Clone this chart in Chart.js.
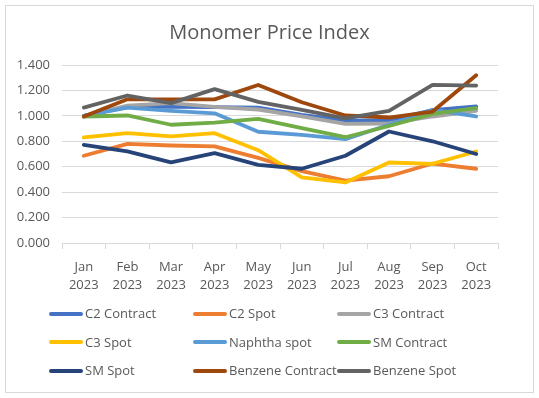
<!DOCTYPE html>
<html>
<head>
<meta charset="utf-8">
<script src="https://cdn.jsdelivr.net/npm/chart.js@4.4.1/dist/chart.umd.min.js"></script>
<style>
  html, body { margin: 0; padding: 0; background: #fff; }
  #wrap { position: relative; width: 539px; height: 398px; font-family: "Open Sans", sans-serif; }
  #frame { position: absolute; left: 5px; top: 5px; width: 527px; height: 386px; border: 1px solid #D9D9D9; }
  #title { position: absolute; left: 0; width: 539px; top: 18px; text-align: center; font-size: 20px; color: #595959; }
  #legend { position: absolute; left: 49px; top: 300px; width: 440px; }
  .item { position: absolute; height: 26px; line-height: 26px; font-size: 13px; color: #595959; white-space: nowrap; }
  .item span { display: inline-block; width: 34px; height: 4px; border-radius: 2px; vertical-align: middle; margin-right: 2px; position: relative; top: -1px; }
</style>
</head>
<body>
<div id="wrap">
  <div id="frame"></div>
  <canvas id="c" width="539" height="398" style="position:absolute;left:0;top:0"></canvas>
  <div id="title">Monomer Price Index</div>
  <div id="legend"></div>
</div>
<script>
const months = [['Jan', '2023'], ['Feb', '2023'], ['Mar', '2023'], ['Apr', '2023'], ['May', '2023'],
    ['Jun', '2023'], ['Jul', '2023'], ['Aug', '2023'], ['Sep', '2023'], ['Oct', '2023']]

const c2Contract = [1.000, 1.070, 1.070, 1.068, 1.064, 1.008, 0.965, 0.965, 1.045, 1.075]
const c2Spot = [0.686, 0.780, 0.767, 0.760, 0.670, 0.565, 0.490, 0.525, 0.625, 0.584]
const c3Contract = [1.000, 1.080, 1.100, 1.070, 1.050, 0.995, 0.937, 0.940, 0.995, 1.040]
const c3Spot = [0.830, 0.864, 0.838, 0.864, 0.730, 0.516, 0.476, 0.633, 0.623, 0.720]
const naphthaSpot = [1.000, 1.065, 1.040, 1.020, 0.875, 0.850, 0.817, 0.930, 1.047, 0.995]
const smContract = [0.995, 1.003, 0.930, 0.947, 0.976, 0.903, 0.832, 0.920, 1.016, 1.060]
const smSpot = [0.772, 0.720, 0.634, 0.707, 0.615, 0.584, 0.686, 0.877, 0.800, 0.700]
const benzeneContract = [0.995, 1.130, 1.130, 1.130, 1.243, 1.107, 1.003, 0.987, 1.034, 1.320]
const benzeneSpot = [1.065, 1.160, 1.100, 1.210, 1.110, 1.047, 0.980, 1.040, 1.243, 1.238]

const yTicks = [0, 0.2, 0.4, 0.6, 0.8, 1.0, 1.2, 1.4]

const series = [
    { label: 'C2 Contract', data: c2Contract, color: '#4472C4' },
    { label: 'C2 Spot', data: c2Spot, color: '#ED7D31' },
    { label: 'C3 Contract', data: c3Contract, color: '#A5A5A5' },
    { label: 'C3 Spot', data: c3Spot, color: '#FFC000' },
    { label: 'Naphtha spot', data: naphthaSpot, color: '#5B9BD5' },
    { label: 'SM Contract', data: smContract, color: '#70AD47' },
    { label: 'SM Spot', data: smSpot, color: '#264478' },
    { label: 'Benzene Contract', data: benzeneContract, color: '#9E480E' },
    { label: 'Benzene Spot', data: benzeneSpot, color: '#636363' }
]

const grey = '#595959'
const font = { family: '"Open Sans", sans-serif', size: 13 }

const chart = new Chart(document.getElementById('c'), {
    type: 'line',
    data: {
        labels: months,
        datasets: series.map(function (s, i) {
            return {
                label: s.label,
                data: s.data,
                borderColor: s.color,
                backgroundColor: s.color,
                borderWidth: 3.8,
                borderCapStyle: 'round',
                borderJoinStyle: 'round',
                tension: 0,
                pointRadius: 0,
                // later series sit on top, like the original
                order: series.length - i
            }
        })
    },
    options: {
        responsive: false,
        animation: false,
        layout: { padding: { top: 65, left: 0, right: 41, bottom: 0 } },
        plugins: {
            legend: { display: false },
            title: { display: false },
            tooltip: { enabled: false }
        },
        scales: {
            x: {
                offset: true,
                grid: { drawOnChartArea: false, drawTicks: true, tickLength: 6, color: '#D9D9D9', offset: true },
                border: { color: '#D9D9D9' },
                ticks: { color: grey, font: { ...font, lineHeight: 1.4 }, padding: 9, maxRotation: 0 },
                afterFit: function (scale) { scale.height = 155 }
            },
            y: {
                min: 0,
                max: 1.4,
                afterBuildTicks: function (scale) {
                    scale.ticks = yTicks.map(function (v) { return { value: v } })
                },
                grid: { color: '#D9D9D9', drawTicks: false },
                border: { display: false },
                ticks: {
                    color: grey, font: font, padding: 12,
                    callback: function (v) { return v.toFixed(3) }
                },
                afterFit: function (scale) { scale.width = 62 }
            }
        }
    }
})

// legend in three fixed columns, like the original
const legend = document.getElementById('legend')
series.forEach(function (s, i) {
    const el = document.createElement('div')
    el.className = 'item'
    el.style.left = (i % 3) * 144 + 'px'
    el.style.top = Math.floor(i / 3) * 28.5 + 'px'
    el.innerHTML = '<span style="background:' + s.color + '"></span>' + s.label
    legend.appendChild(el)
})
</script>
</body>
</html>
